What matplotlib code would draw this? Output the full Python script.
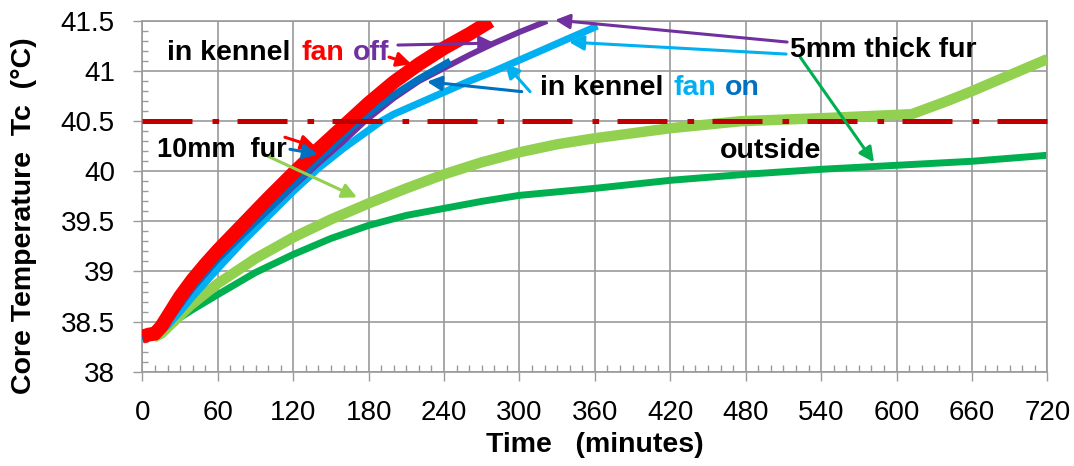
import matplotlib
matplotlib.use('Agg')
import matplotlib.pyplot as plt
from matplotlib.ticker import MultipleLocator

plt.rcParams['font.family'] = ['Liberation Sans', 'DejaVu Sans']

# ---------------- data ----------------
# in kennel, fan off, 10mm fur (red)
t_red = [0, 5, 10, 15, 20, 30, 40, 50, 60, 80, 100, 120, 140, 160, 180, 200, 220, 240, 260, 277]
T_red = [38.35, 38.37, 38.38, 38.45, 38.55, 38.75, 38.92, 39.07, 39.21, 39.47, 39.73, 39.98,
         40.22, 40.45, 40.68, 40.89, 41.07, 41.23, 41.37, 41.50]
# in kennel, fan on, 10mm fur (dark blue)
t_dblue = [0, 10, 20, 30, 40, 60, 80, 100, 120, 140, 160, 172, 180, 200, 220, 245]
T_dblue = [38.33, 38.36, 38.50, 38.68, 38.85, 39.13, 39.38, 39.62, 39.87, 40.12, 40.36, 40.50,
           40.58, 40.76, 40.92, 41.10]
# in kennel, fan off, 5mm fur (purple)
t_purple = [0, 10, 20, 30, 40, 60, 80, 100, 120, 140, 160, 177, 200, 220, 240, 260, 280, 300, 322]
T_purple = [38.33, 38.36, 38.49, 38.66, 38.83, 39.12, 39.37, 39.61, 39.85, 40.08, 40.30, 40.50,
            40.73, 40.90, 41.03, 41.16, 41.28, 41.39, 41.50]
# in kennel, fan on, 5mm fur (light blue)
t_lblue = [0, 10, 20, 30, 40, 60, 80, 100, 120, 140, 160, 180, 190, 200, 220, 240, 260, 280,
           300, 320, 340, 362]
T_lblue = [38.33, 38.35, 38.46, 38.60, 38.75, 39.03, 39.30, 39.55, 39.80, 40.03, 40.23, 40.41,
           40.50, 40.57, 40.68, 40.79, 40.90, 41.00, 41.11, 41.22, 41.33, 41.45]
# outside, 10mm fur (light green)
t_lgreen = [9, 15, 25, 38, 60, 90, 120, 150, 180, 210, 240, 270, 300, 330, 360, 390, 420, 476,
            540, 612, 640, 660, 690, 720]
T_lgreen = [38.34, 38.38, 38.50, 38.66, 38.88, 39.13, 39.34, 39.52, 39.68, 39.83, 39.97, 40.09,
            40.19, 40.27, 40.33, 40.38, 40.43, 40.50, 40.53, 40.57, 40.70, 40.80, 40.96, 41.12]
# outside, 5mm fur (dark green)
t_dgreen = [9, 20, 30, 40, 60, 90, 120, 150, 180, 210, 240, 270, 300, 360, 420, 480, 540, 600, 660, 720]
T_dgreen = [38.34, 38.44, 38.54, 38.62, 38.77, 38.99, 39.17, 39.33, 39.46, 39.56, 39.63, 39.70,
            39.76, 39.83, 39.91, 39.97, 40.02, 40.06, 40.10, 40.16]

threshold = 40.5
x_ticks = list(range(0, 721, 60))
y_ticks = [38, 38.5, 39, 39.5, 40, 40.5, 41, 41.5]
y_ticklabels = ['38', '38.5', '39', '39.5', '40', '40.5', '41', '41.5']

RED = '#FF0000'
PURPLE = '#7030A0'
DBLUE = '#0070C0'
LBLUE = '#00B0F0'
LGREEN = '#92D050'
DGREEN = '#00B050'
GRID = '#9A9A9A'

# ---------------- figure ----------------
W, H = 1074, 466
fig = plt.figure(figsize=(W / 100, H / 100), dpi=100)
L, R, T, B = 142.4, 1047.4, 21.0, 371.7
ax = fig.add_axes([L / W, 1 - B / H, (R - L) / W, (B - T) / H])

ax.set_xlim(0, 720)
ax.set_ylim(38, 41.5)

ax.plot(t_dgreen, T_dgreen, color=DGREEN, lw=5.0, zorder=2, solid_capstyle='butt')
ax.plot(t_lgreen, T_lgreen, color=LGREEN, lw=7.5, zorder=3, solid_capstyle='butt')
ax.plot(t_lblue, T_lblue, color=LBLUE, lw=5.2, zorder=4, solid_capstyle='butt')
ax.plot(t_purple, T_purple, color=PURPLE, lw=4.2, zorder=5, solid_capstyle='butt')
ax.plot(t_dblue, T_dblue, color=DBLUE, lw=5.2, zorder=6, solid_capstyle='butt')
ax.plot(t_red, T_red, color=RED, lw=10, zorder=7, solid_capstyle='butt')

ax.plot([0, 732], [threshold, threshold], color='#C00000', lw=3.6,
        linestyle=(0, (10, 4, 1.33, 3.67)), zorder=9, clip_on=False)

# ticks / grid
ax.set_xticks(x_ticks)
ax.set_yticks(y_ticks)
ax.set_yticklabels(y_ticklabels)
ax.xaxis.set_minor_locator(MultipleLocator(10))
ax.yaxis.set_minor_locator(MultipleLocator(0.1))
ax.tick_params(axis='x', which='major', direction='out', length=6.5, width=1.0, color=GRID,
               labelsize=20, pad=14)
ax.tick_params(axis='y', which='major', direction='out', length=6.8, width=1.0, color=GRID,
               labelsize=20, pad=13)
ax.tick_params(axis='x', which='minor', direction='in', length=5, width=1.0, color=GRID)
ax.tick_params(axis='y', which='minor', direction='in', length=4, width=1.0, color=GRID)
ax.grid(True, which='major', color=GRID, lw=1.2, zorder=0)
ax.set_axisbelow(True)
for s in ax.spines.values():
    s.set_color(GRID)
    s.set_linewidth(1.2)

fig.text(24 / W, 1 - 216 / H, 'Core Temperature  Tc  (°C)', rotation=90, ha='center',
         va='center', fontsize=20.5, fontweight='bold')
fig.text(595 / W, 1 - 445 / H, 'Time   (minutes)', ha='center', va='center',
         fontsize=20.5, fontweight='bold')

# ---------------- annotations ----------------
fs = 20.5
def label(x, y, s, c='black', size=fs):
    ax.text(x, y, s, color=c, fontsize=size, fontweight='bold', ha='left', va='baseline',
            zorder=12)

def arrow(x0, y0, x1, y1, c):
    ax.annotate('', xy=(x1, y1), xytext=(x0, y0), annotation_clip=False,
                arrowprops=dict(arrowstyle='-|>', mutation_scale=22, lw=2.2, color=c,
                                shrinkA=0, shrinkB=0), zorder=11)

label(19.5, 41.11, 'in kennel')
label(126.9, 41.11, 'fan', RED)
label(167.5, 41.11, 'off', PURPLE)

label(316.3, 40.76, 'in kennel')
label(422.9, 40.76, 'fan', LBLUE)
label(463.5, 40.76, 'on', DBLUE)

label(515.2, 41.145, '5mm thick fur')
label(11.6, 40.14, '10mm  fur', size=19.5)
label(459.5, 40.13, 'outside')

arrow(196.2, 41.14, 214.0, 41.07, RED)
arrow(203.3, 41.26, 280.0, 41.28, PURPLE)
arrow(301.8, 40.795, 226.4, 40.894, DBLUE)
arrow(308.4, 40.795, 288.4, 41.078, LBLUE)
arrow(512.9, 41.29, 328.3, 41.51, PURPLE)
arrow(512.1, 41.17, 339.4, 41.29, LBLUE)
arrow(523.3, 41.14, 582.0, 40.09, DGREEN)
arrow(113.4, 40.34, 138.1, 40.24, RED)
arrow(117.4, 40.22, 139.7, 40.17, DBLUE)
arrow(99.9, 40.15, 170.7, 39.74, LGREEN)

fig.savefig('out.png', dpi=100)
